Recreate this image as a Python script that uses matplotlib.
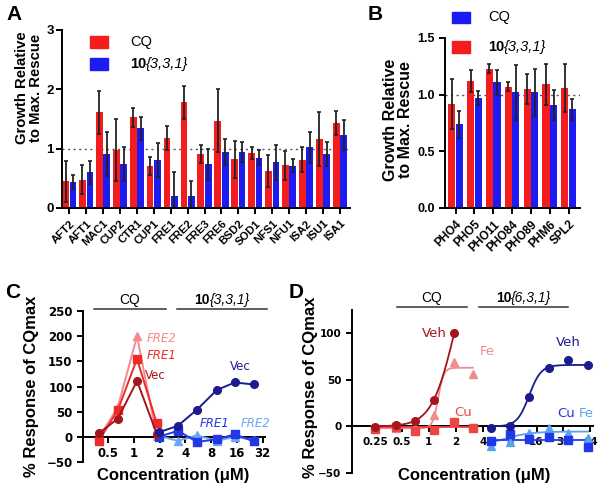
import numpy as np
import matplotlib
matplotlib.use('Agg')
import matplotlib.pyplot as plt
from matplotlib.transforms import blended_transform_factory

plt.rcParams['font.family'] = ['Liberation Sans', 'DejaVu Sans']

# ---------------- data ----------------
a_genes = ['AFT2', 'AFT1', 'MAC1', 'CUP2', 'CTR1', 'CUP1', 'FRE1', 'FRE2', 'FRE3',
           'FRE6', 'BSD2', 'SOD1', 'NFS1', 'NFU1', 'ISA2', 'ISU1', 'ISA1']
a_cq = [0.45, 0.48, 1.61, 0.98, 1.53, 0.71, 1.18, 1.78, 0.91, 1.47, 0.82, 0.92, 0.62, 0.72, 0.81, 1.16, 1.43]
a_cq_err = [0.35, 0.25, 0.37, 0.52, 0.16, 0.15, 0.21, 0.28, 0.16, 0.53, 0.31, 0.10, 0.27, 0.24, 0.21, 0.45, 0.20]
a_cmp = [0.44, 0.60, 0.91, 0.74, 1.34, 0.81, 0.21, 0.21, 0.74, 0.94, 0.94, 0.85, 0.77, 0.71, 1.02, 0.91, 1.23]
a_cmp_err = [0.12, 0.19, 0.37, 0.29, 0.19, 0.29, 0.39, 0.24, 0.26, 0.22, 0.17, 0.12, 0.29, 0.11, 0.26, 0.20, 0.25]

b_genes = ['PHO4', 'PHO5', 'PHO11', 'PHO84', 'PHO89', 'PHM6', 'SPL2']
b_red = [0.92, 1.12, 1.23, 1.07, 1.05, 1.09, 1.06]
b_red_err = [0.22, 0.10, 0.04, 0.04, 0.13, 0.18, 0.21]
b_blue = [0.74, 0.97, 1.11, 1.02, 1.02, 0.91, 0.87]
b_blue_err = [0.12, 0.06, 0.11, 0.24, 0.21, 0.13, 0.09]

c_ticks = [0.5, 1, 2, 4, 8, 16, 32]
c_cq_conc = [0.39, 0.65, 1.09, 1.85]
c_cq_vec = [7, 36, 111, 6]
c_cq_fre1 = [-8, 53, 155, 27]
c_cq_fre2 = [-2, 59, 200, 1]
c_cmp_conc = [1.96, 3.27, 5.46, 9.3, 15.1, 25.1]
c_cmp_vec = [9, 22, 54, 93, 108, 104]
c_cmp_fre1 = [0, 12, -10, -5, 5, -9]
c_cmp_fre2 = [2, -8, 3, -8, 0, -6]

d_ticks = [0.25, 0.5, 1, 2, 4, 8, 16, 32, 64]
d_cq_conc = [0.25, 0.43, 0.70, 1.14, 1.92, 3.1]
d_cq_veh = [-1, 1.5, 6, 28, 100]
d_cq_fe = [-2, -1.5, -2, 12, 69, 56]
d_cq_cu = [-2.5, -1, -4.5, -4, 4.5, -1.5]
d_cmp_conc = [4.9, 8.1, 13.2, 22.2, 36, 60.5]
d_cmp_veh = [-1.5, 0.5, 32, 62.5, 71, 66]
d_cmp_cu = [-16, -8.5, -13, -11, -14.5, -22.5]
d_cmp_fe = [-20.5, -17, -7, -1.5, -7, -12]
# fitted curve parameters (bottom, top, EC50, hill)
fit_cq_veh = (0, 200, 1.92, 3.4)
fit_cq_fe = (-2, 63, 1.27, 14)
fit_cq_cu = (-1, -1, 1.0, 1)
fit_cmp_veh = (0, 66, 13.2, 6.5)
fit_cmp_cu = (-15, -15, 10, 1)
fit_cmp_fe = (-21, -5.5, 7.1, 3)

RED = '#F41C1C'
BLUE = '#1C1CF2'

W, H = 603, 490
fig = plt.figure(figsize=(W / 100, H / 100), dpi=100)


def ax_px(l, t, r, b):
    return fig.add_axes([l / W, 1 - b / H, (r - l) / W, (b - t) / H])


def ftext(x, y, s, **kw):
    return fig.text(x / W, 1 - y / H, s, **kw)


renderer = fig.canvas.get_renderer()


def rich(x, y, parts, size, ha='left'):
    """parts: list of (text, fontweight, fontstyle)"""
    ts, ws = [], []
    for s, wgt, sty in parts:
        t = fig.text(0, 0, s, fontsize=size, fontweight=wgt, fontstyle=sty,
                     va='center', ha='left')
        ws.append(t.get_window_extent(renderer).width)
        ts.append(t)
    cur = x - (sum(ws) / 2 if ha == 'center' else 0)
    for t, w in zip(ts, ws):
        t.set_position((cur / W, 1 - y / H))
        cur += w


def style_axes(ax, lw=1.4):
    for s in ['top', 'right']:
        ax.spines[s].set_visible(False)
    for s in ['left', 'bottom']:
        ax.spines[s].set_linewidth(lw)
    ax.tick_params(width=lw, length=4, color='black')


err_kw = dict(ecolor='#222222', elinewidth=1.3, capsize=1.3, capthick=1.2)

# ---------------- Panel A ----------------
axA = ax_px(62, 30, 350, 208)
xa = np.arange(len(a_genes))
axA.axhline(1, color='#555555', lw=1, ls=(0, (1.5, 2.5)), zorder=0.5)
axA.bar(xa - 0.22, a_cq, 0.4, color=RED, yerr=a_cq_err, error_kw=err_kw, zorder=2)
axA.bar(xa + 0.22, a_cmp, 0.4, color=BLUE, yerr=a_cmp_err, error_kw=err_kw, zorder=2)
axA.set_xlim(-0.43, 16.6)
axA.set_ylim(0, 3)
axA.set_yticks([0, 1, 2, 3])
axA.set_xticks(xa)
axA.set_xticklabels(a_genes, rotation=45, ha='right', rotation_mode='anchor',
                    fontsize=8, fontweight='bold')
for lab in axA.get_yticklabels():
    lab.set_fontweight('bold')
    lab.set_fontsize(9.5)
style_axes(axA)
axA.tick_params(axis='y', pad=2)
ftext(29, 88, 'Growth Relative\nto Max. Rescue', rotation=90, ha='center', va='center',
      fontsize=10.7, fontweight='bold', linespacing=1.05, multialignment='center')
ftext(14, 15, 'A', fontsize=15, fontweight='bold', ha='center', va='center')
# legend A
fig.patches.append(plt.Rectangle((90 / W, 1 - 48 / H), 18 / W, 12 / H, color=RED,
                                 transform=fig.transFigure, figure=fig))
fig.patches.append(plt.Rectangle((90 / W, 1 - 70 / H), 18 / W, 12 / H, color=BLUE,
                                 transform=fig.transFigure, figure=fig))
ftext(130, 42, 'CQ', fontsize=10.5, va='center', ha='left')
rich(130, 64, [('10', 'bold', 'normal'), ('{3,3,1}', 'normal', 'italic')], 10.5)

# ---------------- Panel B ----------------
axB = ax_px(445, 38, 580, 208)
xb = np.arange(len(b_genes))
axB.axhline(1, color='#555555', lw=1, ls=(0, (1.5, 2.5)), zorder=0.5)
axB.bar(xb - 0.2, b_red, 0.38, color=RED, yerr=b_red_err, error_kw=err_kw, zorder=2)
axB.bar(xb + 0.2, b_blue, 0.38, color=BLUE, yerr=b_blue_err, error_kw=err_kw, zorder=2)
axB.set_xlim(-0.56, 6.6)
axB.set_ylim(0, 1.5)
axB.set_yticks([0, 0.5, 1.0, 1.5])
axB.set_yticklabels(['0.0', '0.5', '1.0', '1.5'])
axB.set_xticks(xb)
axB.set_xticklabels(b_genes, rotation=45, ha='right', rotation_mode='anchor',
                    fontsize=8.5, fontweight='bold')
for lab in axB.get_yticklabels():
    lab.set_fontweight('bold')
    lab.set_fontsize(9)
style_axes(axB)
ftext(398, 120, 'Growth Relative\nto Max. Rescue', rotation=90, ha='center', va='center',
      fontsize=11.5, fontweight='bold', linespacing=1.05, multialignment='center')
ftext(375, 15, 'B', fontsize=15, fontweight='bold', ha='center', va='center')
fig.patches.append(plt.Rectangle((452 / W, 1 - 23 / H), 18 / W, 11 / H, color=BLUE,
                                 transform=fig.transFigure, figure=fig))
fig.patches.append(plt.Rectangle((452 / W, 1 - 53 / H), 18 / W, 12 / H, color=RED,
                                 transform=fig.transFigure, figure=fig))
ftext(488, 17, 'CQ', fontsize=10.5, va='center', ha='left')
rich(488, 47, [('10', 'bold', 'normal'), ('{3,3,1}', 'normal', 'italic')], 10.5)


def hill(x, p):
    b, t, ec, h = p
    return b + (t - b) / (1 + (ec / x) ** h)


def log_axes(ax, ticks, fs):
    ax.set_xscale('log', base=2)
    ax.spines['bottom'].set_position(('data', 0))
    style_axes(ax, 1.4)
    ax.set_xticks(ticks)
    ax.set_xticklabels([('%g' % t) for t in ticks])
    ax.minorticks_off()
    for lab in ax.get_xticklabels() + ax.get_yticklabels():
        lab.set_fontweight('bold')
        lab.set_fontsize(fs)
        lab.set_family('DejaVu Sans')


def group_bar(ax, x0, x1, y_line, y_text, parts, size=10):
    tr = blended_transform_factory(ax.transData, ax.transAxes)
    ax.plot([x0, x1], [y_line, y_line], color='#333333', lw=1.1, transform=tr, clip_on=False)
    xm = np.sqrt(x0 * x1)
    xp, yp = (tr.transform((xm, y_text)))
    rich(xp, H - yp, parts, size, ha='center')


# ---------------- Panel C ----------------
axC = ax_px(83, 311, 265, 462)
mk = dict(ms=5.5, lw=1.4)
axC.plot(c_cq_conc, c_cq_fre2, '-^', color='#F5898D', **mk, zorder=3)
axC.plot(c_cq_conc, c_cq_fre1, '-s', color='#EE2A2A', **mk, zorder=4)
axC.plot(c_cq_conc, c_cq_vec, '-o', color='#A3161E', **mk, zorder=5)
axC.plot(c_cmp_conc, c_cmp_fre2, '-^', color='#6CA8F2', **mk, zorder=3)
axC.plot(c_cmp_conc, c_cmp_fre1, '-s', color='#2238E8', **mk, zorder=4)
axC.plot(c_cmp_conc, c_cmp_vec, '-o', color='#1C1C8E', **mk, zorder=5)
axC.set_xlim(0.255, 34)
axC.set_ylim(-50, 250)
axC.set_yticks(range(-50, 251, 50))
log_axes(axC, c_ticks, 8.5)
ann = dict(fontsize=8.5, family='DejaVu Sans', va='center', ha='left')
axC.text(1.40, 196, 'FRE2', color='#F5898D', style='italic', **ann)
axC.text(1.40, 161, 'FRE1', color='#EE2A2A', style='italic', **ann)
axC.text(1.36, 122, 'Vec', color='#A3161E', **ann)
axC.text(13.3, 139, 'Vec', color='#1C1C8E', **ann)
axC.text(5.8, 26, 'FRE1', color='#2238E8', style='italic', **ann)
axC.text(17.8, 26, 'FRE2', color='#6CA8F2', style='italic', **ann)
group_bar(axC, 0.344, 2.38, 1.013, 1.075, [('CQ', 'normal', 'normal')])
group_bar(axC, 3.18, 35.8, 1.013, 1.075, [('10', 'bold', 'normal'), ('{3,3,1}', 'normal', 'italic')])
ftext(32, 386, '% Response of CQmax', rotation=90, ha='center', va='center',
      fontsize=12, fontweight='bold')
ftext(173, 475, 'Concentration (\u03bcM)', ha='center', va='center', fontsize=12, fontweight='bold')
ftext(13, 293, 'C', fontsize=15, fontweight='bold', ha='center', va='center')

# ---------------- Panel D ----------------
axD = ax_px(352, 310, 593, 473)
mk2 = dict(ms=5.5, lw=0, zorder=4)


def fit_line(ax, conc, p, color):
    xx = np.geomspace(conc[0], conc[-1], 200)
    ax.plot(xx, hill(xx, p), color=color, lw=1.3, zorder=3)


fit_line(axD, d_cq_conc, fit_cq_fe, '#F28C8C')
fit_line(axD, d_cq_conc, fit_cq_cu, '#EE4444')
fit_line(axD, d_cq_conc[:len(d_cq_veh)], fit_cq_veh, '#A3161E')
axD.plot(d_cq_conc, d_cq_fe, '^', color='#F28C8C', **mk2)
axD.plot(d_cq_conc, d_cq_cu, 's', color='#EE4444', **mk2)
axD.plot(d_cq_conc[:len(d_cq_veh)], d_cq_veh, 'o', color='#A3161E', **mk2)
fit_line(axD, d_cmp_conc, fit_cmp_fe, '#5AA2F0')
fit_line(axD, d_cmp_conc, fit_cmp_cu, '#2038E8')
fit_line(axD, d_cmp_conc, fit_cmp_veh, '#1C1C8E')
axD.plot(d_cmp_conc, d_cmp_fe, '^', color='#5AA2F0', **mk2)
axD.plot(d_cmp_conc, d_cmp_cu, 's', color='#2038E8', **mk2)
axD.plot(d_cmp_conc, d_cmp_veh, 'o', color='#1C1C8E', **mk2)
axD.set_xlim(0.138, 68.5)
axD.set_ylim(-50, 125)
axD.set_yticks([-50, 0, 50, 100])
log_axes(axD, d_ticks, 7.5)
ann2 = dict(fontsize=9.5, family='DejaVu Sans', va='center')
axD.text(1.6, 100, 'Veh', color='#A3161E', ha='right', **ann2)
axD.text(3.73, 80, 'Fe', color='#F28C8C', ha='left', **ann2)
axD.text(1.92, 15, 'Cu', color='#EE4444', ha='left', **ann2)
axD.text(26.5, 90, 'Veh', color='#1C1C8E', ha='left', **ann2)
axD.text(27.3, 14, 'Cu', color='#2038E8', ha='left', **ann2)
axD.text(47.8, 14, 'Fe', color='#5AA2F0', ha='left', **ann2)
group_bar(axD, 0.44, 2.68, 1.018, 1.074, [('CQ', 'normal', 'normal')])
group_bar(axD, 3.66, 36, 1.018, 1.074, [('10', 'bold', 'normal'), ('{6,3,1}', 'normal', 'italic')])
ftext(311, 387, '% Response of CQmax', rotation=90, ha='center', va='center',
      fontsize=12, fontweight='bold')
ftext(474, 475, 'Concentration (\u03bcM)', ha='center', va='center', fontsize=12, fontweight='bold')
ftext(296, 293, 'D', fontsize=15, fontweight='bold', ha='center', va='center')

fig.savefig('out.png', dpi=100)
